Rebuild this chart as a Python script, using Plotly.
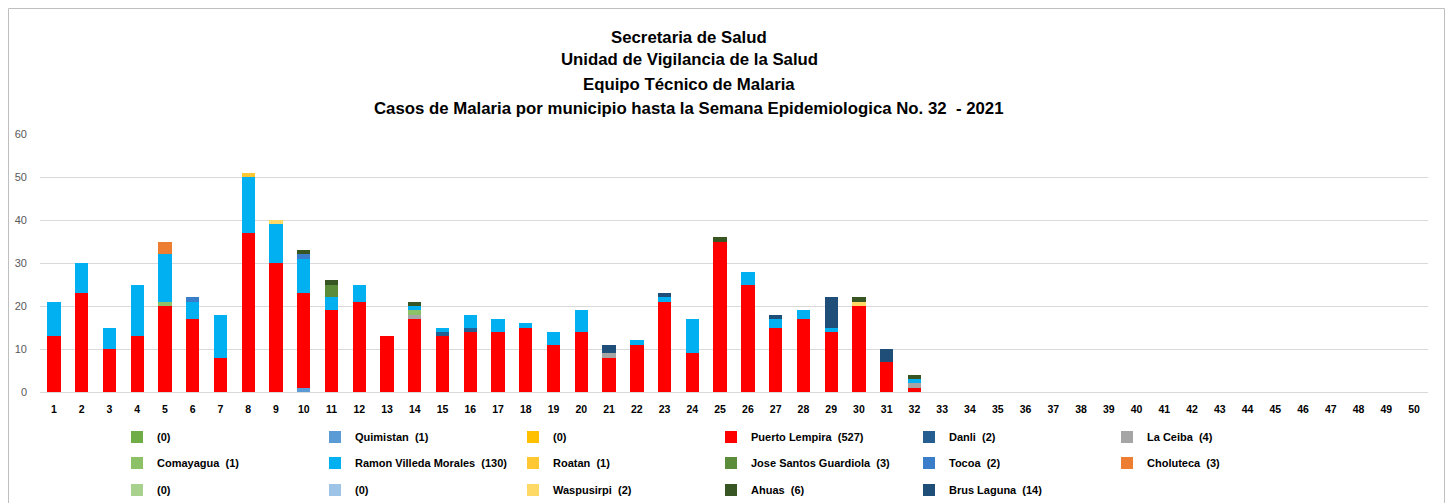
import plotly.graph_objects as go

weeks = [str(i) for i in range(1, 51)]
data_weeks = weeks[:32]

series_names = [
    "(0)", "Quimistan  (1)", "(0)", "Puerto Lempira  (527)", "Danli  (2)", "La Ceiba  (4)",
    "Comayagua  (1)", "Ramon Villeda Morales  (130)", "Roatan  (1)", "Jose Santos Guardiola  (3)",
    "Tocoa  (2)", "Choluteca  (3)", "(0)", "(0)", "Waspusirpi  (2)", "Ahuas  (6)", "Brus Laguna  (14)",
]
series_colors = [
    "#70AD47", "#5B9BD5", "#FFC000", "#FF0000", "#255E91", "#A5A5A5",
    "#8CC168", "#00B0F0", "#FFC832", "#5B8C3A",
    "#3A7DC9", "#ED7D31", "#A9D18E", "#9DC3E6", "#FFD966", "#375623", "#1F4E79",
]

zero_a          = [0,0,0,0,0,0,0,0,0,0,0,0,0,0,0,0,0,0,0,0,0,0,0,0,0,0,0,0,0,0,0,0]
quimistan       = [0,0,0,0,0,0,0,0,0,1,0,0,0,0,0,0,0,0,0,0,0,0,0,0,0,0,0,0,0,0,0,0]
zero_b          = [0,0,0,0,0,0,0,0,0,0,0,0,0,0,0,0,0,0,0,0,0,0,0,0,0,0,0,0,0,0,0,0]
puerto_lempira  = [13,23,10,13,20,17,8,37,30,22,19,21,13,17,13,14,14,15,11,14,8,11,21,9,35,25,15,17,14,20,7,1]
danli           = [0,0,0,0,0,0,0,0,0,0,0,0,0,0,1,1,0,0,0,0,0,0,0,0,0,0,0,0,0,0,0,0]
la_ceiba        = [0,0,0,0,0,0,0,0,0,0,0,0,0,1,0,0,0,0,0,0,1,0,0,0,0,0,0,0,0,0,0,1]
comayagua       = [0,0,0,0,1,0,0,0,0,0,0,0,0,1,0,0,0,0,0,0,0,0,0,0,0,0,0,0,0,0,0,0]
ramon_villeda   = [8,7,5,12,11,4,10,13,9,8,3,4,0,1,1,3,3,1,3,5,0,1,1,8,0,3,2,2,1,0,0,1]
roatan          = [0,0,0,0,0,0,0,1,0,0,0,0,0,0,0,0,0,0,0,0,0,0,0,0,0,0,0,0,0,0,0,0]
jose_santos     = [0,0,0,0,0,0,0,0,0,0,3,0,0,0,0,0,0,0,0,0,0,0,0,0,0,0,0,0,0,0,0,0]
tocoa           = [0,0,0,0,0,1,0,0,0,1,0,0,0,0,0,0,0,0,0,0,0,0,0,0,0,0,0,0,0,0,0,0]
choluteca       = [0,0,0,0,3,0,0,0,0,0,0,0,0,0,0,0,0,0,0,0,0,0,0,0,0,0,0,0,0,0,0,0]
zero_c          = [0,0,0,0,0,0,0,0,0,0,0,0,0,0,0,0,0,0,0,0,0,0,0,0,0,0,0,0,0,0,0,0]
zero_d          = [0,0,0,0,0,0,0,0,0,0,0,0,0,0,0,0,0,0,0,0,0,0,0,0,0,0,0,0,0,0,0,0]
waspusirpi      = [0,0,0,0,0,0,0,0,1,0,0,0,0,0,0,0,0,0,0,0,0,0,0,0,0,0,0,0,0,1,0,0]
ahuas           = [0,0,0,0,0,0,0,0,0,1,1,0,0,1,0,0,0,0,0,0,0,0,0,0,1,0,0,0,0,1,0,1]
brus_laguna     = [0,0,0,0,0,0,0,0,0,0,0,0,0,0,0,0,0,0,0,0,2,0,1,0,0,0,1,0,7,0,3,0]

series_values = [
    zero_a, quimistan, zero_b, puerto_lempira, danli, la_ceiba, comayagua, ramon_villeda,
    roatan, jose_santos, tocoa, choluteca, zero_c, zero_d, waspusirpi, ahuas, brus_laguna,
]

title_lines = [
    "Secretaria de Salud",
    "Unidad de Vigilancia de la Salud",
    "Equipo Técnico de Malaria",
    "Casos de Malaria por municipio hasta la Semana Epidemiologica No. 32  - 2021",
]

y_ticks = [0, 10, 20, 30, 40, 50, 60]

FONT = "Liberation Sans, Arial, sans-serif"

# the page body has an 8px default margin: figure origin is at (8, 8) on screen
OX, OY = 8, 8
W, H = 1437, 495
ml = 40 - OX
mr = W - (1428 - OX)
mt = 134 - OY
mb = H - (392 - OY)
pw = W - ml - mr
ph = H - mt - mb


def py_to_paper(py):
    # py: screen y
    return ((H - mb) - (py - OY)) / ph


def px_to_paper(px):
    # px: screen x
    return ((px - OX) - ml) / pw


legend_keys = ["legend", "legend2", "legend3"]
legend_rows_py = [437, 463, 490]
COLS = 6

fig = go.Figure()
for i, (name, color, vals) in enumerate(zip(series_names, series_colors, series_values)):
    fig.add_trace(go.Bar(
        x=data_weeks, y=vals, name=name,
        marker=dict(color=color, line=dict(width=0)),
        legend=legend_keys[i // COLS],
    ))

legend_common = dict(
    orientation="h",
    xanchor="left", yanchor="middle",
    entrywidth=153, entrywidthmode="pixels",
    font=dict(family=FONT, size=11, color="black", weight="bold"),
    traceorder="normal", itemwidth=30,
    bgcolor="rgba(0,0,0,0)",
)

layout_legends = {}
for key, rpy in zip(legend_keys, legend_rows_py):
    d = dict(legend_common)
    d["x"] = px_to_paper(117)
    d["y"] = py_to_paper(rpy)
    layout_legends[key] = d

annotations = []
for line, tpy in zip(title_lines, [37, 60, 84, 108]):
    annotations.append(dict(
        text="<b>%s</b>" % line, xref="paper", yref="paper",
        x=px_to_paper(689), y=py_to_paper(tpy), xanchor="center", yanchor="middle",
        showarrow=False, font=dict(family=FONT, size=16.8, color="black"),
    ))

fig.update_layout(
    width=W, height=H,
    barmode="stack",
    bargap=0.52,
    plot_bgcolor="white",
    paper_bgcolor="white",
    margin=dict(l=ml, r=mr, t=mt, b=mb, autoexpand=False),
    font=dict(family=FONT),
    annotations=annotations,
    xaxis=dict(
        type="category", categoryorder="array", categoryarray=weeks,
        tickvals=weeks, ticktext=["<b>%s</b>" % w for w in weeks],
        tickfont=dict(family=FONT, size=10.5, color="black"),
        showgrid=False, showline=False, ticks="", ticklabelstandoff=9,
        range=[-0.5, 49.5], automargin=False,
    ),
    yaxis=dict(
        range=[0, 60], tickvals=y_ticks,
        tickfont=dict(family=FONT, size=11, color="#595959"),
        showgrid=True, gridcolor="#D9D9D9", gridwidth=1,
        zeroline=True, zerolinecolor="#D9D9D9", zerolinewidth=1,
        showline=False, ticks="", ticklabelstandoff=12, automargin=False,
    ),
    showlegend=True,
    **layout_legends,
)

fig.add_shape(
    type="rect", xref="paper", yref="paper",
    x0=px_to_paper(8.5), x1=px_to_paper(1444.5),
    y0=py_to_paper(H + OY + 5), y1=py_to_paper(8.5),
    line=dict(color="#BFBFBF", width=1), fillcolor="rgba(0,0,0,0)", layer="below",
)

fig.write_html("out.html")
